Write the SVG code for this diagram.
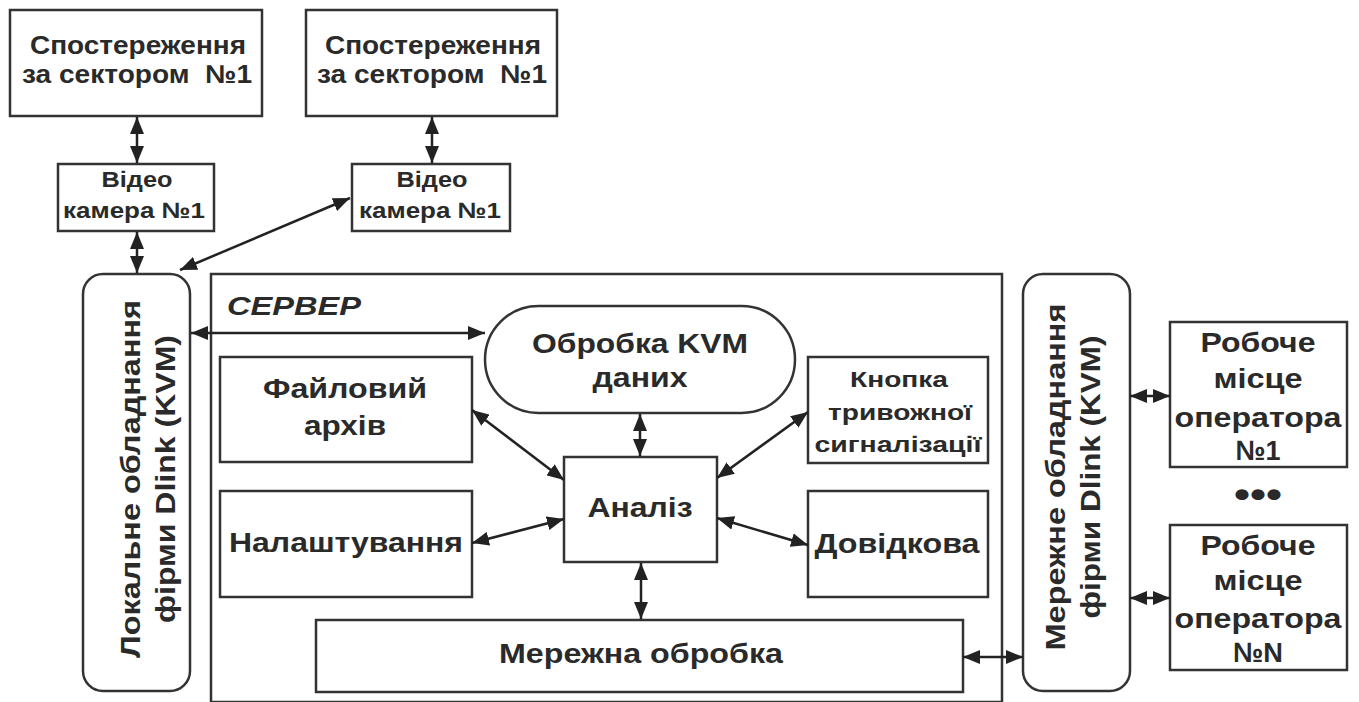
<svg xmlns="http://www.w3.org/2000/svg" width="1359" height="702" viewBox="0 0 1359 702">
<style>
.b{fill:#fff;stroke:#333;stroke-width:2.5}
.t{font-family:"Liberation Sans",Arial,sans-serif;font-weight:bold;fill:#2a2a2a;text-anchor:middle}
.s{font-family:"Liberation Sans",Arial,sans-serif;font-weight:bold;font-style:italic;fill:#2a2a2a;text-anchor:start}
.c{fill:none;stroke:#222;stroke-width:2.5;marker-start:url(#ah);marker-end:url(#ah)}
</style>
<defs>
<marker id="ah" markerUnits="userSpaceOnUse" markerWidth="17" markerHeight="14" refX="17" refY="7" orient="auto-start-reverse" viewBox="0 0 17 14">
<path d="M0,0 L17,7 L0,14 z" fill="#222"/>
</marker>
</defs>
<rect width="1359" height="702" fill="#fff"/>
<g id="server">
<rect class="b" x="211" y="274" width="791" height="428"/>
<text class="s" x="227" y="315" font-size="26" textLength="134" lengthAdjust="spacingAndGlyphs">СЕРВЕР</text>
</g>
<g id="sector1">
<rect class="b" x="10" y="10" width="252" height="106"/>
<text class="t" x="138" y="54" font-size="26" textLength="216" lengthAdjust="spacingAndGlyphs">Спостереження</text>
<text class="t" x="137" y="83" font-size="26" textLength="230" lengthAdjust="spacingAndGlyphs" xml:space="preserve">за сектором  №1</text>
</g>
<g id="sector2">
<rect class="b" x="306" y="10" width="251" height="106"/>
<text class="t" x="433" y="54" font-size="26" textLength="216" lengthAdjust="spacingAndGlyphs">Спостереження</text>
<text class="t" x="432" y="83" font-size="26" textLength="230" lengthAdjust="spacingAndGlyphs" xml:space="preserve">за сектором  №1</text>
</g>
<g id="camera1">
<rect class="b" x="58" y="164" width="156" height="67"/>
<text class="t" x="137" y="187" font-size="22" textLength="71" lengthAdjust="spacingAndGlyphs">Відео</text>
<text class="t" x="134" y="218" font-size="22" textLength="142" lengthAdjust="spacingAndGlyphs">камера №1</text>
</g>
<g id="camera2">
<rect class="b" x="352" y="164" width="158" height="67"/>
<text class="t" x="432" y="187" font-size="22" textLength="71" lengthAdjust="spacingAndGlyphs">Відео</text>
<text class="t" x="430" y="218" font-size="22" textLength="142" lengthAdjust="spacingAndGlyphs">камера №1</text>
</g>
<g id="local-kvm">
<rect class="b" x="83" y="274" width="107" height="417" rx="20"/>
<text class="t" font-size="27" textLength="358" lengthAdjust="spacingAndGlyphs" transform="translate(140,479) rotate(-90)">Локальне обладнання</text>
<text class="t" font-size="27" textLength="288" lengthAdjust="spacingAndGlyphs" transform="translate(175,479) rotate(-90)">фірми Dlink (KVM)</text>
</g>
<g id="kvm-processing">
<rect class="b" x="485" y="306" width="310" height="107" rx="53.5"/>
<text class="t" x="640" y="353" font-size="28" textLength="216" lengthAdjust="spacingAndGlyphs">Обробка KVM</text>
<text class="t" x="640" y="387" font-size="28" textLength="95" lengthAdjust="spacingAndGlyphs">даних</text>
</g>
<g id="file-archive">
<rect class="b" x="220" y="357" width="252" height="105"/>
<text class="t" x="345" y="398" font-size="28" textLength="164" lengthAdjust="spacingAndGlyphs">Файловий</text>
<text class="t" x="345" y="435" font-size="28" textLength="82" lengthAdjust="spacingAndGlyphs">архів</text>
</g>
<g id="settings">
<rect class="b" x="220" y="491" width="252" height="106"/>
<text class="t" x="346" y="552" font-size="28" textLength="234" lengthAdjust="spacingAndGlyphs">Налаштування</text>
</g>
<g id="analysis">
<rect class="b" x="564" y="457" width="153" height="105"/>
<text class="t" x="640" y="517" font-size="28" textLength="105" lengthAdjust="spacingAndGlyphs">Аналіз</text>
</g>
<g id="alarm-button">
<rect class="b" x="808" y="357" width="180" height="106"/>
<text class="t" x="899" y="387" font-size="22" textLength="98" lengthAdjust="spacingAndGlyphs">Кнопка</text>
<text class="t" x="900" y="420" font-size="22" textLength="144" lengthAdjust="spacingAndGlyphs">тривожної</text>
<text class="t" x="898" y="452" font-size="22" textLength="167" lengthAdjust="spacingAndGlyphs">сигналізації</text>
</g>
<g id="reference">
<rect class="b" x="808" y="491" width="180" height="106"/>
<text class="t" x="897" y="553" font-size="28" textLength="165" lengthAdjust="spacingAndGlyphs">Довідкова</text>
</g>
<g id="network-processing">
<rect class="b" x="316" y="620" width="647" height="72"/>
<text class="t" x="641" y="663" font-size="28" textLength="284" lengthAdjust="spacingAndGlyphs">Мережна обробка</text>
</g>
<g id="network-kvm">
<rect class="b" x="1023" y="274" width="107" height="417" rx="20"/>
<text class="t" font-size="27" textLength="347" lengthAdjust="spacingAndGlyphs" transform="translate(1065,477) rotate(-90)">Мережне обладнання</text>
<text class="t" font-size="27" textLength="283" lengthAdjust="spacingAndGlyphs" transform="translate(1100,477) rotate(-90)">фірми Dlink (KVM)</text>
</g>
<g id="operator1">
<rect class="b" x="1170" y="322" width="177" height="145"/>
<text class="t" x="1258" y="352" font-size="28" textLength="115" lengthAdjust="spacingAndGlyphs">Робоче</text>
<text class="t" x="1258" y="388" font-size="28" textLength="89" lengthAdjust="spacingAndGlyphs">місце</text>
<text class="t" x="1258" y="427" font-size="28" textLength="167" lengthAdjust="spacingAndGlyphs">оператора</text>
<text class="t" x="1258" y="460" font-size="28" textLength="45" lengthAdjust="spacingAndGlyphs">№1</text>
</g>
<g id="dots">
<text class="t" x="1258" y="507" font-size="36" textLength="48" lengthAdjust="spacingAndGlyphs">•••</text>
</g>
<g id="operatorN">
<rect class="b" x="1170" y="525" width="177" height="145"/>
<text class="t" x="1258" y="555" font-size="28" textLength="115" lengthAdjust="spacingAndGlyphs">Робоче</text>
<text class="t" x="1258" y="590" font-size="28" textLength="89" lengthAdjust="spacingAndGlyphs">місце</text>
<text class="t" x="1258" y="628" font-size="28" textLength="167" lengthAdjust="spacingAndGlyphs">оператора</text>
<text class="t" x="1258" y="662" font-size="28" textLength="50" lengthAdjust="spacingAndGlyphs">№N</text>
</g>
<g id="connectors">
<line class="c" x1="137" y1="117" x2="137" y2="163"/>
<line class="c" x1="432" y1="117" x2="432" y2="163"/>
<line class="c" x1="137" y1="232" x2="137" y2="273"/>
<line class="c" x1="180" y1="270" x2="350" y2="198"/>
<line class="c" x1="191" y1="333" x2="485" y2="333"/>
<line class="c" x1="472" y1="410" x2="564" y2="480"/>
<line class="c" x1="472" y1="543" x2="564" y2="519"/>
<line class="c" x1="640" y1="414" x2="640" y2="456"/>
<line class="c" x1="808" y1="412" x2="717" y2="478"/>
<line class="c" x1="717" y1="518" x2="808" y2="545"/>
<line class="c" x1="641" y1="563" x2="641" y2="619"/>
<line class="c" x1="963" y1="657" x2="1023" y2="657"/>
<line class="c" x1="1130" y1="396" x2="1170" y2="396"/>
<line class="c" x1="1130" y1="598" x2="1170" y2="598"/>
</g>
</svg>
